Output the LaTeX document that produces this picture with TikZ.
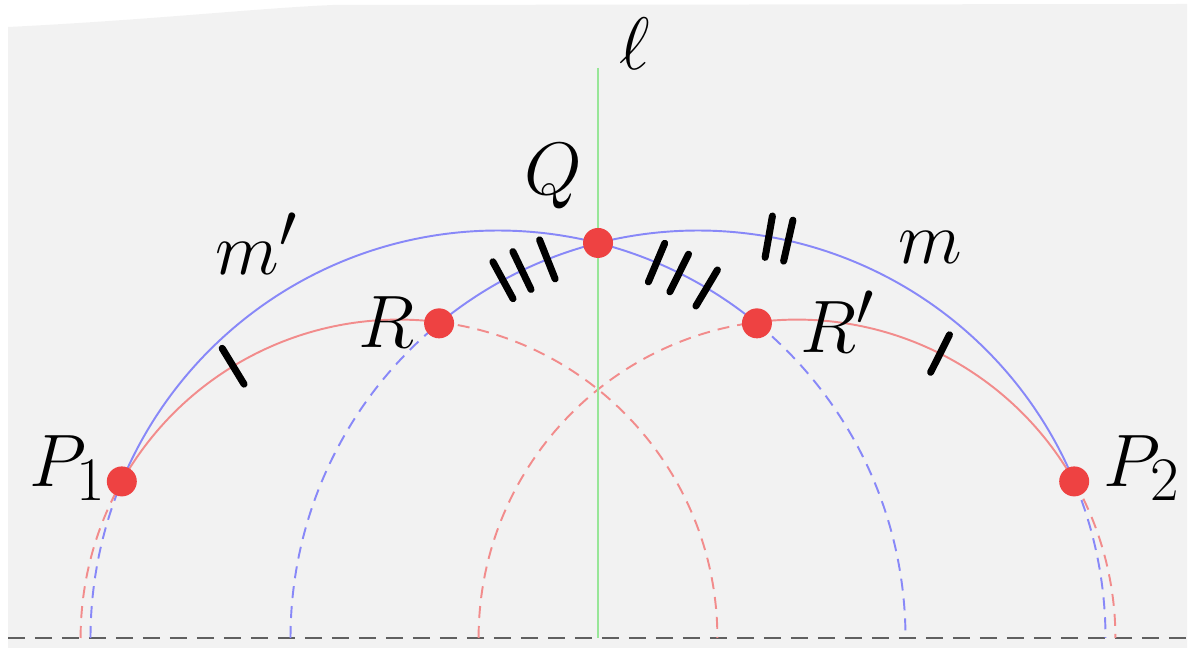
\documentclass[tikz,border=0pt]{standalone}
\usepackage{amsmath, amssymb}
\usepackage{tikz}
\usetikzlibrary{positioning, calc}
\usepackage{xcolor}
\definecolor{BgGray}{HTML}{F2F2F2}
\definecolor{GeoBlue}{HTML}{8888F8}
\definecolor{GeoRed}{HTML}{F28C8C}
\definecolor{DotRed}{HTML}{EE4242}
\definecolor{AxisGreen}{HTML}{98E698}
\definecolor{BaseGray}{HTML}{606060}

\tikzset{
  bluearc/.style={draw=GeoBlue, line width=1.1pt},
  redarc/.style={draw=GeoRed, line width=1.1pt},
  hidden/.style={dash pattern=on 0.24cm off 0.16cm},
  tickmark/.style={draw=black, line width=4pt, line cap=round},
  dot/.style={circle, fill=DotRed, inner sep=0pt, minimum size=0.6cm},
  lbl/.style={font=\Huge, scale=1.7},
}

% arc of a half circle standing on the base line
\newcommand{\geoarc}[5][]{%
  \draw[#1] ([shift={(#2,0)}]#4:#3) arc[start angle=#4, end angle=#5, radius=#3];}
% little equal-length mark across an arc
\newcommand{\hashmark}[3]{%
  \draw[tickmark] ([shift={(#1,0)}]#3:{#2-21}) -- ([shift={(#1,0)}]#3:{#2+21});}

\begin{document}
\begin{tikzpicture}[x=0.02cm, y=0.02cm]
  \useasboundingbox (0,-10) rectangle (1196,638);
  \fill[BgGray] (8,-10) -- (8,611) .. controls (150,618) and (260,630) .. (333,633)
    -- (1187,634) -- (1187,-10) -- cycle;

  % base line
  \coordinate (baseL) at (8,0);
  \coordinate (baseR) at (1192,0);
  \draw[BaseGray, line width=1.2pt, dash pattern=on 0.34cm off 0.2cm] (baseL) -- (baseR);

  % the four half circles
  \geoarc[bluearc, hidden]{498}{407.5}{180}{157.4}
  \geoarc[bluearc]{498}{407.5}{157.4}{50.55}
  \geoarc[bluearc, hidden]{498}{407.5}{50.55}{0}

  \geoarc[bluearc, hidden]{698}{407.5}{180}{129.45}
  \geoarc[bluearc]{698}{407.5}{129.45}{22.6}
  \geoarc[bluearc, hidden]{698}{407.5}{22.6}{0}

  \geoarc[redarc, hidden]{399}{318.4}{180}{150.46}
  \geoarc[redarc]{399}{318.4}{150.46}{82.96}
  \geoarc[redarc, hidden]{399}{318.4}{82.96}{0}

  \geoarc[redarc, hidden]{797}{318.4}{180}{97.04}
  \geoarc[redarc]{797}{318.4}{97.04}{29.54}
  \geoarc[redarc, hidden]{797}{318.4}{29.54}{0}

  % axis of symmetry
  \coordinate (ltop) at (598,570);
  \coordinate (lbot) at (598,0);
  \draw[AxisGreen, line width=1.3pt] (ltop) -- (lbot);

  % marks
  \hashmark{399}{318.4}{121.4}
  \hashmark{797}{318.4}{63.3}
  \hashmark{698}{407.5}{80}
  \hashmark{698}{407.5}{77.2}
  \hashmark{698}{407.5}{118.6}
  \hashmark{698}{407.5}{115.6}
  \hashmark{698}{407.5}{111.7}
  \hashmark{498}{407.5}{67.1}
  \hashmark{498}{407.5}{63.6}
  \hashmark{498}{407.5}{59.2}

  % points
  \node[dot] (P1) at ([shift={(498,0)}]157.4:407.5) {};
  \node[dot] (Q)  at ([shift={(498,0)}]75.79:407.5) {};
  \node[dot] (Rp) at ([shift={(498,0)}]50.55:407.5) {};
  \node[dot] (R)  at ([shift={(698,0)}]129.45:407.5) {};
  \node[dot] (P2) at ([shift={(698,0)}]22.6:407.5) {};

  % labels
  \node[lbl] (ellLbl) at (635,594) {$\ell$};
  \node[lbl] (QLbl)   at (553,462) {$Q$};
  \node[lbl] (mpLbl)  at (257,394) {$m'$};
  \node[lbl] (mLbl)   at (930,390) {$m$};
  \node[lbl] (RLbl)   at (386,316) {$R$};
  \node[lbl] (RpLbl)  at (838,316) {$R'$};
  \node[lbl] (P1Lbl)  at (68,170)  {$P_1$};
  \node[lbl] (P2Lbl)  at (1142,170) {$P_2$};
\end{tikzpicture}
\end{document}
